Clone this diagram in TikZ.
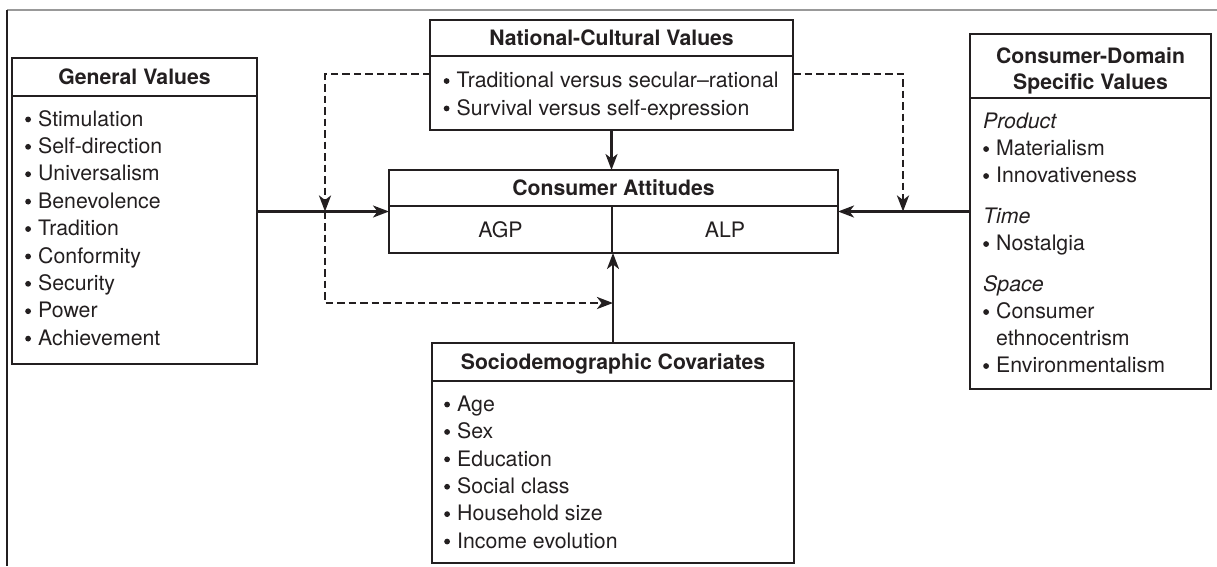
\documentclass[tikz,border=0pt]{standalone}
\usepackage{fontspec}
\setmainfont{TeX Gyre Heros}
\usetikzlibrary{arrows.meta,calc}
\definecolor{ink}{HTML}{231F20}
% round list bullet followed by the gap before the item text
\newcommand\bul{\makebox[13pt][l]{\raisebox{3.8pt}{\tikz\fill[ink] (0,0) circle (2.9pt);}}}
\begin{document}
\begin{tikzpicture}[x=1pt,y=-1pt,
  boxframe/.style={draw=ink, line width=2.6pt, inner sep=0pt, outer sep=0pt, anchor=north west},
  headtxt/.style={font=\fontsize{21.2}{26}\selectfont\bfseries, text=ink},
  oneline/.style={text height=15pt, text depth=0pt},
  bodytxt/.style={font=\fontsize{21.3}{27.4}\selectfont, text=ink, inner sep=0pt, anchor=north west, align=left},
  arr/.style={draw=ink, line width=2.4pt, -{Stealth[length=16pt,width=12pt,inset=4.5pt]}},
  dashline/.style={line width=2.7pt, dash pattern=on 7.5pt off 4pt}
]
\useasboundingbox (0,0) rectangle (1217,566);

% frame lines of the figure
\draw[gray!80, line width=1.6pt] (7,10) -- (1217,10);
\draw[ink, line width=1.6pt] (7,10) -- (7,566);

% General Values
\node[boxframe, headtxt, oneline, minimum width=245pt, minimum height=38pt] (gvh) at (12,58) {General Values};
\node[boxframe, minimum width=245pt, minimum height=268pt] (gvb) at (12,96) {};
\node[bodytxt] (gvt) at (25,110) {\bul Stimulation\\\bul Self-direction\\\bul Universalism\\\bul Benevolence\\\bul Tradition\\\bul Conformity\\\bul Security\\\bul Power\\\bul Achievement};

% National-Cultural Values
\node[boxframe, headtxt, oneline, minimum width=363pt, minimum height=36pt] (ncvh) at (430,20) {National-Cultural Values};
\node[boxframe, minimum width=363pt, minimum height=74pt] (ncvb) at (430,56) {};
\node[bodytxt] (ncvt) at (443.5,72) {\bul Traditional versus secular–rational\\\bul Survival versus self-expression};

% Consumer Attitudes
\node[boxframe, headtxt, oneline, minimum width=449pt, minimum height=36pt] (cah) at (389,170) {Consumer Attitudes};
\node[boxframe, font=\fontsize{21.3}{26}\selectfont, text=ink, oneline, minimum width=223pt, minimum height=47pt] (agp) at (389,206) {AGP};
\node[boxframe, font=\fontsize{21.3}{26}\selectfont, text=ink, oneline, minimum width=226pt, minimum height=47pt] (alp) at (612,206) {ALP};

% Consumer-Domain Specific Values
\node[boxframe, minimum width=241pt, minimum height=64pt] (cdh) at (970,34) {};
\node[headtxt, inner sep=0pt, anchor=north, align=center] (cdht) at ($(cdh.north)+(0,13)$) {Consumer-Domain\\Specific Values};
\node[boxframe, minimum width=241pt, minimum height=291pt] (cdb) at (970,98) {};
\node[bodytxt, font=\fontsize{21.3}{27}\selectfont] (cdt) at (983,113) {\textit{Product}\\\bul Materialism\\\bul Innovativeness\\[14pt]\textit{Time}\\\bul Nostalgia\\[14pt]\textit{Space}\\\bul Consumer\\\hspace*{13pt}ethnocentrism\\\bul Environmentalism};

% Sociodemographic Covariates
\node[boxframe, headtxt, oneline, minimum width=362pt, minimum height=38pt] (soh) at (432,343) {Sociodemographic Covariates};
\node[boxframe, minimum width=362pt, minimum height=182pt] (sob) at (432,381) {};
\node[bodytxt] (sot) at (444,395.5) {\bul Age\\\bul Sex\\\bul Education\\\bul Social class\\\bul Household size\\\bul Income evolution};

% connection points
\coordinate (caw) at ($(cah.north west)!.5!(agp.south west)$);
\coordinate (cae) at ($(cah.north east)!.5!(alp.south east)$);
\coordinate (jl) at ($(caw)+(-64,0)$);
\coordinate (jr) at ($(cae)+(65,0)$);
\coordinate (nl) at ([yshift=19pt]ncvb.west);
\coordinate (nr) at ([yshift=19pt]ncvb.east);
\coordinate (jb) at (soh.north |- 0,303);

% solid arrows
\draw[arr] (ncvb.south) -- (ncvb.south |- cah.north);
\draw[arr] (soh.north) -- (soh.north |- agp.south);
\draw[arr] (gvb.east |- caw) -- (caw);
\draw[arr] (cdb.west |- cae) -- (cae);

% dashed moderating paths
\draw[arr, dashline] (nl) -| (jl);
\draw[arr, dashline] (jl) |- (jb);
\draw[arr, dashline] (nr) -| (jr);
\end{tikzpicture}
\end{document}
